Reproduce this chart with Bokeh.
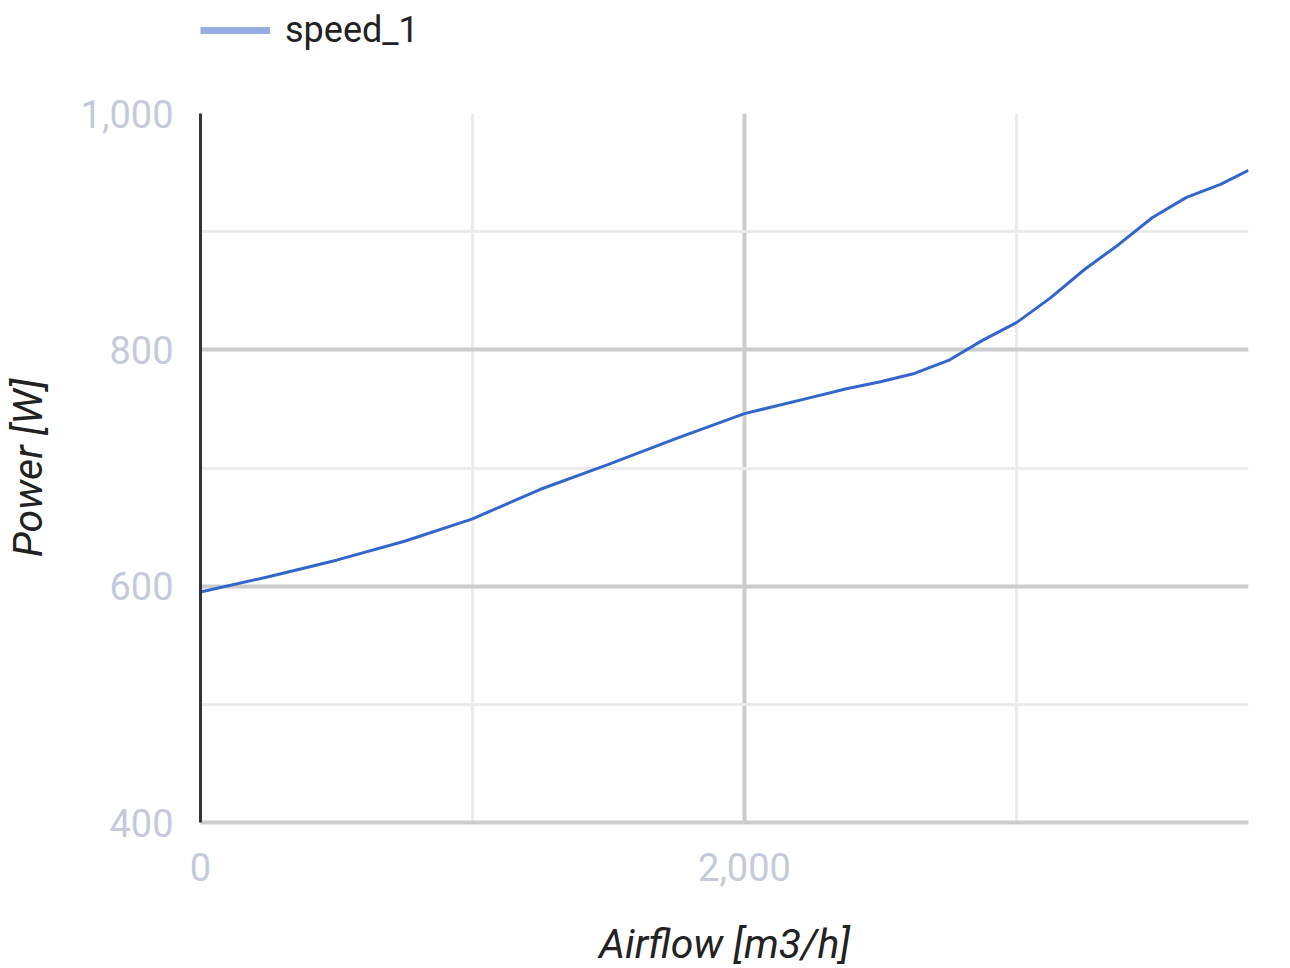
from bokeh.plotting import figure
from bokeh.layouts import column
from bokeh.models import Range1d, FixedTicker, NumeralTickFormatter, Legend, LegendItem, ColumnDataSource
from bokeh.embed import file_html
from bokeh.resources import INLINE

# Data
airflow = [0, 250, 500, 750, 1000, 1250, 1500, 1750, 2000, 2250, 2375, 2500, 2625,
           2750, 2875, 3000, 3125, 3250, 3375, 3500, 3625, 3750, 3853]
power = [595, 608, 622, 638, 657, 682, 703, 725, 746, 760, 767, 773, 780,
         791, 808, 823, 844, 868, 889, 912, 929, 940, 952]
series_name = "speed_1"
x_ticks = [0, 2000]
x_minor = [1000, 3000]
y_ticks = [400, 600, 800, 1000]
y_minor = [500, 700, 900]

FONT = "Roboto"
TICK_COLOR = "#c5cadb"
LINE_COLOR = "#3366cc"
W = 1276

src = ColumnDataSource(dict(x=airflow, y=power))

# ---- legend strip (separate figure so the legend is not clipped) ----
LEG_H = 60
lf = figure(width=W, height=LEG_H, min_border=0,
            x_range=Range1d(0, 1), y_range=Range1d(0, 1),
            output_backend="svg", toolbar_location=None)
lf.axis.visible = False
lf.grid.visible = False
lf.outline_line_color = None
# same series, out of this strip's view: only its legend swatch shows
legend_r = lf.line("x", "y", source=src, line_color="#94aee3", line_width=7)
legend = Legend(
    items=[LegendItem(label=series_name, renderers=[legend_r])],
    location=(0, 9),
    orientation="horizontal",
    margin=0, padding=0,
    glyph_width=70, glyph_height=40,
    label_standoff=15,
    label_text_font=FONT, label_text_font_size="36px", label_text_color="#222222",
    border_line_color=None, background_fill_alpha=0,
)
lf.add_layout(legend, "center")

# ---- main chart ----
p = figure(
    frame_width=1048, frame_height=709,
    min_border_left=199, min_border_top=113 - LEG_H, min_border_right=29, min_border_bottom=130,
    x_range=Range1d(0, 3853), y_range=Range1d(400, 1000),
    output_backend="svg", toolbar_location=None,
)
p.outline_line_color = None
p.background_fill_color = "white"
p.border_fill_color = "white"

p.line("x", "y", source=src, line_color=LINE_COLOR, line_width=3)

p.xaxis.ticker = FixedTicker(ticks=x_ticks, minor_ticks=x_minor)
p.yaxis.ticker = FixedTicker(ticks=y_ticks, minor_ticks=y_minor)
for ax in (p.xaxis[0], p.yaxis[0]):
    ax.formatter = NumeralTickFormatter(format="0,0")
    ax.major_tick_line_color = None
    ax.minor_tick_line_color = None
    ax.major_label_text_font = FONT
    ax.major_label_text_font_size = "38px"
    ax.major_label_text_color = TICK_COLOR
    ax.axis_label_text_font = FONT
    ax.axis_label_text_font_size = "41px"
    ax.axis_label_text_font_style = "italic"
    ax.axis_label_text_color = "#222222"

p.xaxis.axis_label = "Airflow [m3/h]"
p.yaxis.axis_label = "Power [W]"
p.xaxis.axis_line_color = "#cccccc"
p.xaxis.axis_line_width = 4
p.yaxis.axis_line_color = "#333333"
p.yaxis.axis_line_width = 3
p.xaxis.major_label_standoff = 24
p.xaxis.axis_label_standoff = 36
p.yaxis.major_label_standoff = 21
p.yaxis.axis_label_standoff = 26

p.xgrid.grid_line_color = "#cccccc"
p.xgrid.grid_line_width = 4
p.xgrid.minor_grid_line_color = "#ebebeb"
p.xgrid.minor_grid_line_width = 3
p.ygrid.grid_line_color = "#cccccc"
p.ygrid.grid_line_width = 4
p.ygrid.minor_grid_line_color = "#ebebeb"
p.ygrid.minor_grid_line_width = 3

layout = column(lf, p, spacing=0)
open("out.html", "w").write(file_html(layout, INLINE))
